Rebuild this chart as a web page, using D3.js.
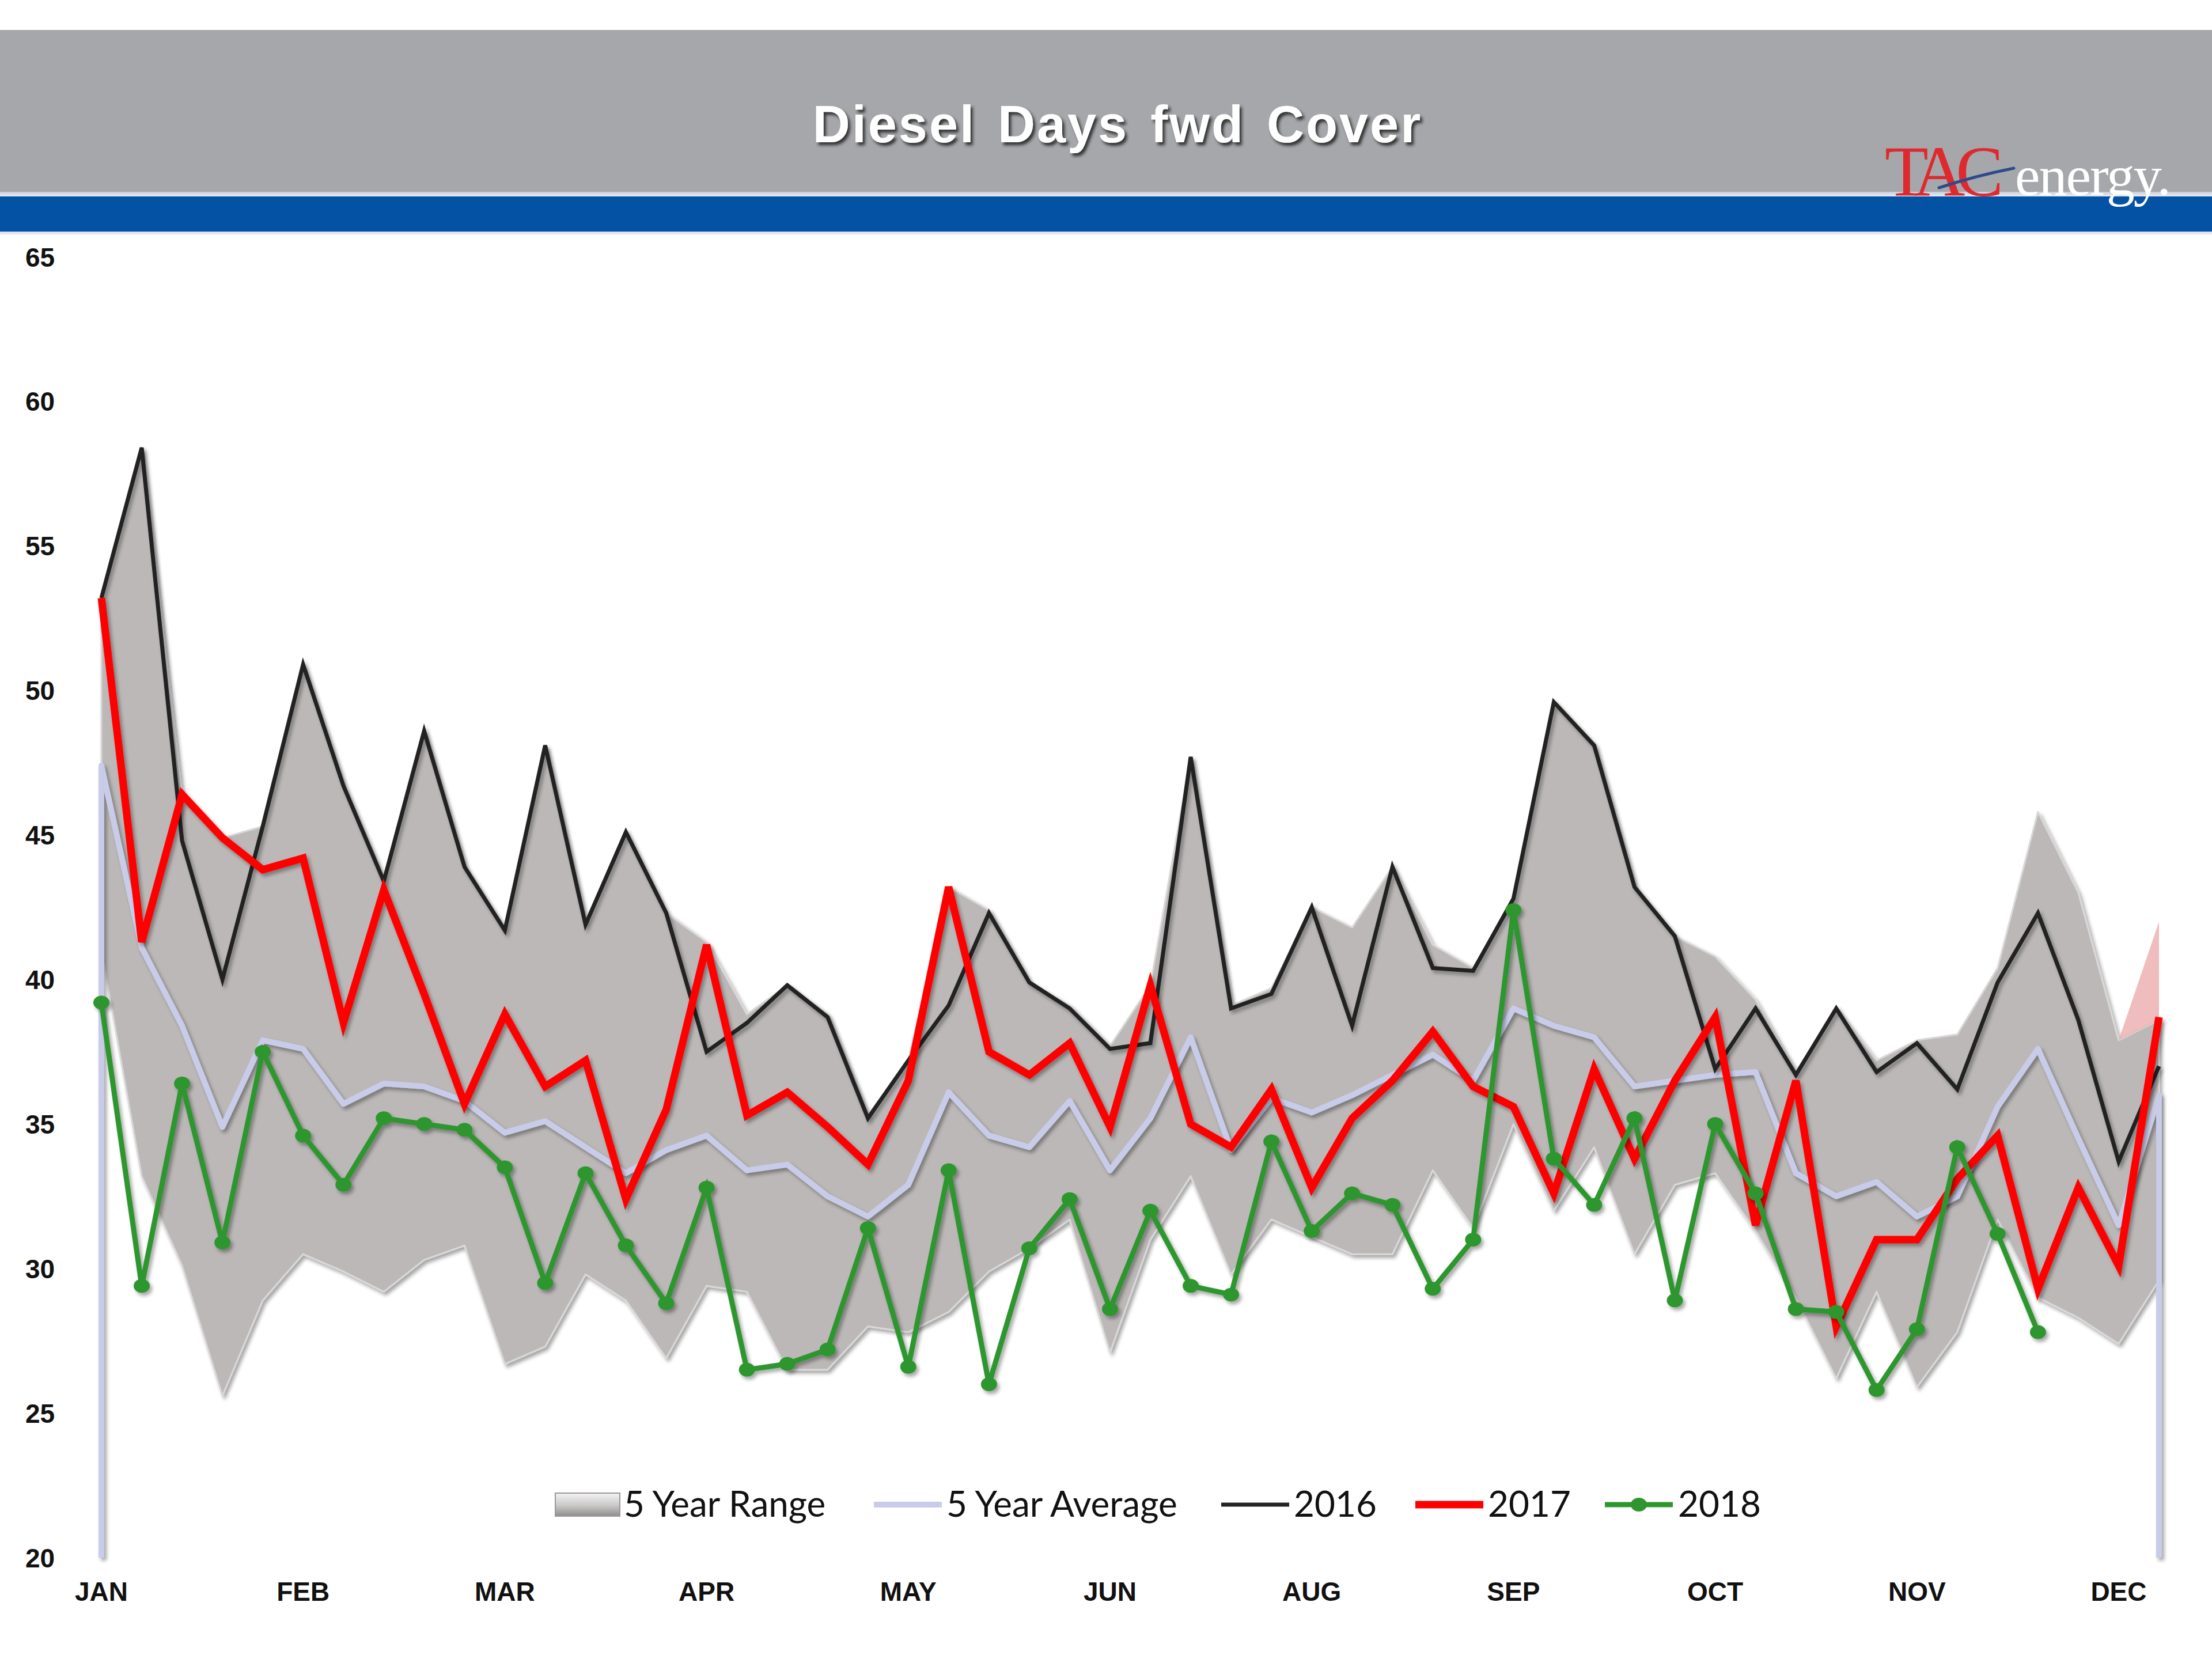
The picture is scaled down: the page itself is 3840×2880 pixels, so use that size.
<!DOCTYPE html>
<html>
<head>
<meta charset="utf-8">
<script src="https://cdn.jsdelivr.net/npm/d3@7"></script>
<style>
  html, body { margin: 0; padding: 0; background: #fff; }
  svg { display: block; }
</style>
</head>
<body>
<svg id="chart" width="3840" height="2880"></svg>
<script>
// ---------------- DATA ----------------
const title = "Diesel Days fwd Cover";
const monthLabels = ["JAN", "FEB", "MAR", "APR", "MAY", "JUN", "AUG", "SEP", "OCT", "NOV", "DEC"];
const monthTickWeeks = [0, 5, 10, 15, 20, 25, 30, 35, 40, 45, 50];
const yTicks = [20, 25, 30, 35, 40, 45, 50, 55, 60, 65];

const rangeHigh = [53.2, 58.4, 46.4, 44.9, 45.3, 50.9, 46.7, 43.4, 48.6, 43.9, 41.7, 48.1, 41.9, 45.1, 42.3, 41.3, 38.8,
  39.8, 38.8, 35.3, 37.2, 43.2, 42.4, 39.9, 39.1, 37.7, 39.8, 47.7, 39.1, 39.7, 42.5, 41.8, 43.9, 41.2, 40.4,
  42.8, 49.6, 48.1, 43.2, 41.5, 40.8, 39.3, 36.8, 39.0, 37.2, 37.9, 38.1, 40.4, 45.8, 43.0, 37.9, 38.6];
const rangeLow = [41.0, 33.2, 30.1, 25.6, 28.9, 30.5, 29.9, 29.2, 30.3, 30.8, 26.7, 27.3, 29.8, 28.9, 26.9, 29.4, 29.2,
  26.5, 26.5, 28.0, 27.8, 28.5, 29.9, 30.7, 31.7, 27.1, 31.0, 33.2, 29.8, 31.7, 31.1, 30.5, 30.5, 33.4, 31.4,
  35.0, 32.0, 34.2, 30.5, 32.9, 33.3, 31.3, 29.0, 26.2, 29.2, 25.9, 27.8, 31.7, 29.0, 28.3, 27.4, 29.6];
// last-week highlight of the range (drawn pink in the source)
const rangeTailWeeks = [50, 51];
const rangeTailTop = [37.9, 42.0];

const avg5 = [47.4, 41.1, 38.4, 34.9, 37.9, 37.6, 35.7, 36.4, 36.3, 35.8, 34.7, 35.1, 34.2, 33.3, 34.1, 34.6, 33.4,
  33.6, 32.5, 31.8, 32.9, 36.1, 34.6, 34.2, 35.8, 33.4, 35.2, 38.0, 34.1, 35.9, 35.4, 36.0, 36.7, 37.4, 36.5,
  39.0, 38.4, 38.0, 36.3, 36.5, 36.7, 36.8, 33.3, 32.5, 33.0, 31.8, 32.5, 35.6, 37.6, 34.5, 31.5, 36.0];
const y2016 = [53.2, 58.4, 44.8, 40.0, 45.3, 50.9, 46.7, 43.4, 48.6, 43.9, 41.7, 48.1, 41.9, 45.1, 42.3, 37.5, 38.5,
  39.8, 38.7, 35.2, 37.2, 39.1, 42.3, 39.9, 39.0, 37.6, 37.8, 47.7, 39.0, 39.5, 42.5, 38.4, 43.9, 40.4, 40.3,
  42.8, 49.6, 48.1, 43.2, 41.5, 36.9, 39.0, 36.7, 39.0, 36.8, 37.8, 36.2, 39.9, 42.3, 38.6, 33.7, 37.0];
const y2017 = [53.2, 41.3, 46.4, 44.9, 43.8, 44.2, 38.5, 43.1, 39.5, 35.7, 38.8, 36.3, 37.2, 32.4, 35.5, 41.2, 35.3,
  36.1, 34.9, 33.6, 36.5, 43.2, 37.5, 36.7, 37.8, 34.9, 39.8, 35.0, 34.2, 36.2, 32.8, 35.2, 36.5, 38.2, 36.3,
  35.6, 32.6, 36.9, 33.8, 36.5, 38.7, 31.5, 36.5, 28.0, 31.0, 31.0, 33.1, 34.6, 29.3, 32.8, 30.1, 38.7];
const y2018 = [39.2, 29.4, 36.4, 30.9, 37.5, 34.6, 32.9, 35.2, 35.0, 34.8, 33.5, 29.5, 33.3, 30.8, 28.8, 32.8, 26.5,
  26.7, 27.2, 31.4, 26.6, 33.4, 26.0, 30.7, 32.4, 28.6, 32.0, 29.4, 29.1, 34.4, 31.3, 32.6, 32.2, 29.3, 31.0,
  42.4, 33.8, 32.2, 35.2, 28.9, 35.0, 32.6, 28.6, 28.5, 25.8, 27.9, 34.2, 31.2, 27.8];

const legendLabels = ["5 Year Range", "5 Year Average", "2016", "2017", "2018"];

// ---------------- LAYOUT ----------------
const svg = d3.select("#chart");
const W = 3840;
const colors = { range: "#bcb8b8", avg: "#c9cce9", s2016: "#222222", s2017: "#ff0000", s2018: "#2f962f", pink: "#e9a7a7" };

const defs = svg.append("defs");
const sh = defs.append("filter").attr("id", "shadow").attr("x", "-5%").attr("y", "-5%").attr("width", "110%").attr("height", "110%");
sh.append("feDropShadow").attr("dx", 4).attr("dy", 5).attr("stdDeviation", 3).attr("flood-color", "#000").attr("flood-opacity", 0.35);
const tsh = defs.append("filter").attr("id", "tshadow").attr("x", "-10%").attr("y", "-30%").attr("width", "120%").attr("height", "160%");
tsh.append("feDropShadow").attr("dx", 4).attr("dy", 5).attr("stdDeviation", 2.5).attr("flood-color", "#1a1a1a").attr("flood-opacity", 0.85);
const lg = defs.append("linearGradient").attr("id", "swatchGrad").attr("x1", 0).attr("y1", 0).attr("x2", 0).attr("y2", 1);
lg.append("stop").attr("offset", "0%").attr("stop-color", "#f4f4f4");
lg.append("stop").attr("offset", "55%").attr("stop-color", "#c9c6c6");
lg.append("stop").attr("offset", "100%").attr("stop-color", "#8e8c8c");
const bandLine = defs.append("linearGradient").attr("id", "bandEdge").attr("x1", 0).attr("y1", 0).attr("x2", 0).attr("y2", 1);
bandLine.append("stop").attr("offset", "0%").attr("stop-color", "#c9ced8");
bandLine.append("stop").attr("offset", "100%").attr("stop-color", "#e9eef6");

// Header
svg.append("rect").attr("x", 0).attr("y", 52).attr("width", W).attr("height", 282).attr("fill", "#a6a7aa");
svg.append("rect").attr("x", 0).attr("y", 333).attr("width", W).attr("height", 8).attr("fill", "url(#bandEdge)");
svg.append("rect").attr("x", 0).attr("y", 341).attr("width", W).attr("height", 61).attr("fill", "#0352a3");
svg.append("rect").attr("x", 0).attr("y", 402).attr("width", W).attr("height", 5).attr("fill", "#dfe6f1");

svg.append("text").attr("x", 1940).attr("y", 247)
  .attr("text-anchor", "middle")
  .attr("font-family", "'Liberation Sans', Arial, sans-serif")
  .attr("font-weight", "bold").attr("font-size", 90)
  .attr("letter-spacing", 3).attr("word-spacing", 10)
  .attr("fill", "#ffffff").attr("filter", "url(#tshadow)")
  .text(title);

// Logo
const logo = svg.append("g");
logo.append("text").attr("x", 3272).attr("y", 340)
  .attr("font-family", "'Liberation Serif', 'DejaVu Serif', serif")
  .attr("font-size", 124).attr("letter-spacing", -16).attr("fill", "#de2a2e")
  .text("TAC");
logo.append("text").attr("x", 3498).attr("y", 338)
  .attr("font-family", "'Liberation Serif', 'DejaVu Serif', serif")
  .attr("font-size", 98).attr("letter-spacing", -2).attr("fill", "#ffffff")
  .text("energy.");
logo.append("path").attr("d", "M3366,326 Q3430,305 3496,292")
  .attr("stroke", "#2c4b8c").attr("stroke-width", 5).attr("fill", "none").attr("stroke-linecap", "round");

// Scales
const x = d3.scaleLinear().domain([0, rangeHigh.length - 1]).range([176, 3748]);
const y = d3.scaleLinear().domain([20, 65]).range([2704, 446]);
const yMin = y.domain()[0];

// Y labels
svg.append("g").selectAll("text").data(yTicks).join("text")
  .attr("x", 44).attr("y", d => y(d)).attr("dy", "0.36em")
  .attr("font-family", "'Liberation Sans', Arial, sans-serif")
  .attr("font-weight", "bold").attr("font-size", 46).attr("fill", "#111")
  .text(d => d);

// X axis line
svg.append("line").attr("x1", x(0)).attr("x2", x(rangeHigh.length - 1) + 4)
  .attr("y1", y(yMin)).attr("y2", y(yMin))
  .attr("stroke", "#cfcfcf").attr("stroke-width", 6).attr("filter", "url(#shadow)");

// Month labels
svg.append("g").selectAll("text").data(monthTickWeeks).join("text")
  .attr("x", d => x(d)).attr("y", 2779)
  .attr("text-anchor", "middle")
  .attr("font-family", "'Liberation Sans', Arial, sans-serif")
  .attr("font-weight", "bold").attr("font-size", 46).attr("fill", "#111")
  .text((d, i) => monthLabels[i]);

// Range area
const rangeData = rangeHigh.map((h, i) => ({ i, h, l: rangeLow[i] }));
const area = d3.area().x(d => x(d.i)).y0(d => y(d.l)).y1(d => y(d.h));
svg.append("path").datum(rangeData).attr("d", area)
  .attr("fill", colors.range).attr("stroke", "#d9d7d7").attr("stroke-width", 3)
  .attr("stroke-linejoin", "round").attr("filter", "url(#shadow)");

// Pink tail of range
const tailData = rangeTailWeeks.map((w, k) => ({ i: w, h: rangeTailTop[k], l: rangeHigh[w] }));
svg.append("path").datum(tailData).attr("d", area)
  .attr("fill", colors.pink).attr("opacity", 0.75);

// 5 Year Average (drops to the axis at both ends)
const avgPts = [{ i: 0, v: yMin }].concat(avg5.map((v, i) => ({ i, v })), [{ i: avg5.length - 1, v: yMin }]);
const line = d3.line().x(d => x(d.i)).y(d => y(d.v)).defined(d => d.v != null);
svg.append("path").datum(avgPts).attr("d", line)
  .attr("fill", "none").attr("stroke", colors.avg).attr("stroke-width", 10)
  .attr("stroke-linejoin", "round").attr("filter", "url(#shadow)");

// 2016
svg.append("path").datum(y2016.map((v, i) => ({ i, v }))).attr("d", line)
  .attr("fill", "none").attr("stroke", colors.s2016).attr("stroke-width", 7)
  .attr("stroke-linejoin", "miter").attr("filter", "url(#shadow)");

// 2017
svg.append("path").datum(y2017.map((v, i) => ({ i, v }))).attr("d", line)
  .attr("fill", "none").attr("stroke", colors.s2017).attr("stroke-width", 13)
  .attr("stroke-linejoin", "miter").attr("filter", "url(#shadow)");

// 2018
const g18 = svg.append("g").attr("filter", "url(#shadow)");
const d18 = y2018.map((v, i) => ({ i, v }));
g18.append("path").datum(d18).attr("d", line)
  .attr("fill", "none").attr("stroke", colors.s2018).attr("stroke-width", 9)
  .attr("stroke-linejoin", "miter");
g18.selectAll("ellipse").data(d18).join("ellipse")
  .attr("cx", d => x(d.i)).attr("cy", d => y(d.v)).attr("rx", 14).attr("ry", 12)
  .attr("fill", colors.s2018);

// Legend
const legY = 2612;
const lgFont = "Lato, 'Open Sans', sans-serif";
const legItems = [
  { sx: 964, tx: 1083, kind: "range" },
  { sx: 1517, tx: 1643, kind: "avg" },
  { sx: 2120, tx: 2246, kind: "2016" },
  { sx: 2457, tx: 2583, kind: "2017" },
  { sx: 2786, tx: 2913, kind: "2018" }
];
const leg = svg.append("g");
legItems.forEach((it, k) => {
  if (it.kind === "range") {
    leg.append("rect").attr("x", it.sx).attr("y", legY - 20).attr("width", 112).attr("height", 40)
      .attr("fill", "url(#swatchGrad)").attr("stroke", "#9a9898").attr("stroke-width", 2);
  } else {
    const col = it.kind === "avg" ? colors.avg : it.kind === "2016" ? colors.s2016 : it.kind === "2017" ? colors.s2017 : colors.s2018;
    const sw = it.kind === "avg" ? 10 : it.kind === "2016" ? 7 : it.kind === "2017" ? 13 : 9;
    leg.append("line").attr("x1", it.sx).attr("x2", it.sx + 118).attr("y1", legY).attr("y2", legY)
      .attr("stroke", col).attr("stroke-width", sw);
    if (it.kind === "2018") {
      leg.append("ellipse").attr("cx", it.sx + 59).attr("cy", legY).attr("rx", 14).attr("ry", 12).attr("fill", col);
    }
  }
  leg.append("text").attr("x", it.tx).attr("y", legY + 21)
    .attr("font-family", lgFont).attr("font-size", 62).attr("fill", "#111")
    .text(legendLabels[k]);
});
</script>
</body>
</html>
